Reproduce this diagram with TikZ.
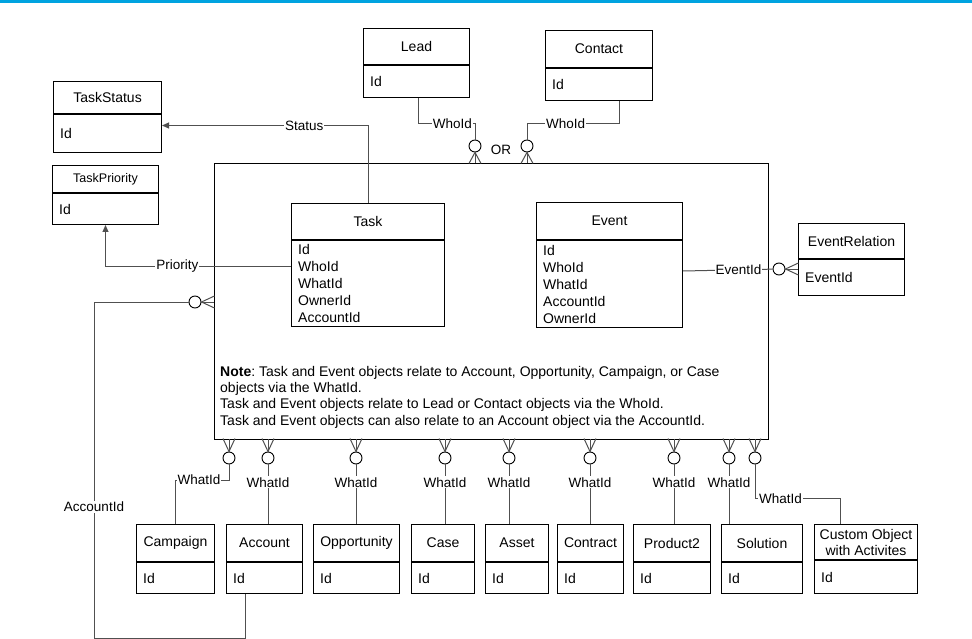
\documentclass[tikz,border=0pt]{standalone}
\usepackage{fontspec}
\setmainfont{Liberation Sans}
\usetikzlibrary{positioning,calc,arrows.meta}

\definecolor{barblue}{HTML}{00A3E0}
\definecolor{edgegray}{HTML}{505050}

\newcommand{\titlefont}{\fontsize{14}{16}\selectfont}
\newcommand{\fieldfont}{\fontsize{14}{17}\selectfont}
\newcommand{\labelfont}{\fontsize{13.5}{15}\selectfont}

\tikzset{
  headbox/.style={draw, rectangle, anchor=north west, align=center, inner sep=0pt, line width=1pt, font=\titlefont},
  fieldbox/.style={draw, rectangle, anchor=north, inner sep=0pt, line width=1pt},
  fieldtext/.style={anchor=west, align=left, inner sep=0pt, font=\fieldfont},
  link/.style={draw=edgegray, line width=1pt},
  lbl/.style={fill=white, inner sep=1pt, font=\labelfont},
  ring/.style={circle, draw=black, fill=white, line width=0.9pt, minimum size=12pt, inner sep=0pt},
  arr/.style={-{Triangle[length=7pt,width=6pt]}},
}

% entity: name, x, y, width, head height, body height, title, fields
\newcommand{\entity}[8]{%
  \node[headbox, minimum width=#4pt, minimum height=#5pt] (#1) at (#2,#3) {#7};
  \node[fieldbox, minimum width=#4pt, minimum height=#6pt] (#1-f) at (#1.south) {};
  \node[fieldtext] at ([xshift=7pt]#1-f.west) {#8};
}

\begin{document}
\frenchspacing
\begin{tikzpicture}[x=1pt, y=-1pt]
  \useasboundingbox (0,0) rectangle (972,639);
  \fill[barblue] (0,0) rectangle (972,3);

  % activity frame
  \node[draw, rectangle, anchor=north west, line width=1pt,
        minimum width=554pt, minimum height=276pt] (act) at (214,163) {};
  \node[anchor=north west, align=left, inner sep=0pt,
        font=\fontsize{14}{16.3}\selectfont] (note) at (220,366)
    {\textbf{Note}: Task and Event objects relate to Account, Opportunity, Campaign, or Case\\
     objects via the WhatId.\\
     Task and Event objects relate to Lead or Contact objects via the WhoId.\\
     Task and Event objects can also relate to an Account object via the AccountId.};

  % top entities
  \entity{lead}{363}{28}{106}{36}{32}{Lead}{Id}
  \entity{contact}{545}{30}{107}{37}{32}{Contact}{Id}
  \entity{taskstatus}{53}{81}{108}{32}{38}{TaskStatus}{Id}
  \entity{taskpriority}{52}{165}{106}{27}{31}{\fontsize{12.5}{14}\selectfont TaskPriority}{Id}
  \entity{task}{291}{203}{153}{36}{86}{Task}{Id\\WhoId\\WhatId\\OwnerId\\AccountId}
  \entity{event}{536}{202}{146}{37}{87}{Event}{Id\\WhoId\\WhatId\\AccountId\\OwnerId}
  \entity{evrel}{798}{223}{106}{35}{36}{EventRelation}{EventId}

  % bottom entities
  \entity{campaign}{136}{524}{78}{37}{31}{Campaign}{Id}
  \entity{account}{226}{524}{76}{37}{31}{Account}{Id}
  \entity{opp}{313}{524}{86}{37}{31}{Opportunity}{Id}
  \entity{case}{411}{524}{63}{37}{31}{Case}{Id}
  \entity{asset}{485}{524}{63}{37}{31}{Asset}{Id}
  \entity{contract}{557}{524}{66}{37}{31}{Contract}{Id}
  \entity{product}{633}{524}{77}{37}{31}{Product2}{Id}
  \entity{solution}{721}{524}{81}{37}{31}{Solution}{Id}
  \entity{custom}{814}{524}{103}{35}{33}{\fontsize{14}{16}\selectfont Custom Object\\with Activites}{Id}

  % WhoId links
  \node[ring] (whoL) at (475,146) {};
  \node[ring] (whoC) at (527,146) {};
  \node[font=\labelfont] (or) at (501,150) {OR};
  \foreach \d in {-6,0,6} {
    \draw[link] (whoL.south) -- ++(\d,11);
    \draw[link] (whoC.south) -- ++(\d,11);
  }
  \draw[link] ([xshift=2pt]lead-f.south) -- ++(0,26) -| node[lbl, pos=0.3]{WhoId} (whoL);
  \draw[link] ([xshift=20pt]contact-f.south) -- ++(0,23) -| node[lbl, pos=0.29]{WhoId} (whoC);

  % lookups
  \draw[link, arr] (task.north) |- node[lbl, pos=0.655]{Status} ([yshift=8pt]taskstatus-f.east);
  \draw[link, arr] ([yshift=17pt]task-f.west) -| node[lbl, pos=0.306]{Priority} (taskpriority-f.south);

  % EventRelation
  \node[ring] (evring) at (779,269) {};
  \foreach \d in {-6,0,6}
    \draw[link] (evring.east) -- ++(13,\d);
  \draw[link] ([yshift=13pt]event-f.east) -- node[lbl, pos=0.62]{EventId} (evring);

  % AccountId
  \node[ring] (accring) at (195,302) {};
  \foreach \d in {-6,0,6}
    \draw[link] (accring.east) -- ++(13,\d);
  \coordinate (acccorner) at (94,638);
  \draw[link] (accring.west) -| node[lbl, pos=0.805]{AccountId} (acccorner)
    -| ([xshift=-19pt]account-f.south);

  % WhatId links
  \foreach \x [count=\i] in {229,268,356,445,509,590,674,729,755} {
    \node[ring] (w\i) at (\x,458) {};
    \foreach \d in {-6,0,6}
      \draw[link] (w\i.north) -- ++(\d,-13);
  }
  \draw[link] (campaign.north) -- ++(0,-44) -| node[lbl, pos=0.22]{WhatId} (w1);
  \foreach \r/\b in {w2/account, w3/opp, w4/case, w5/asset, w6/contract, w7/product, w8/solution}
    \draw[link] (\r.south) -- node[lbl, pos=0.3]{WhatId} (\r |- \b.north);
  \draw[link] (w9.south) -- ++(0,34) -| node[lbl, pos=0.15]{WhatId} ([xshift=-26pt]custom.north);
\end{tikzpicture}
\end{document}
